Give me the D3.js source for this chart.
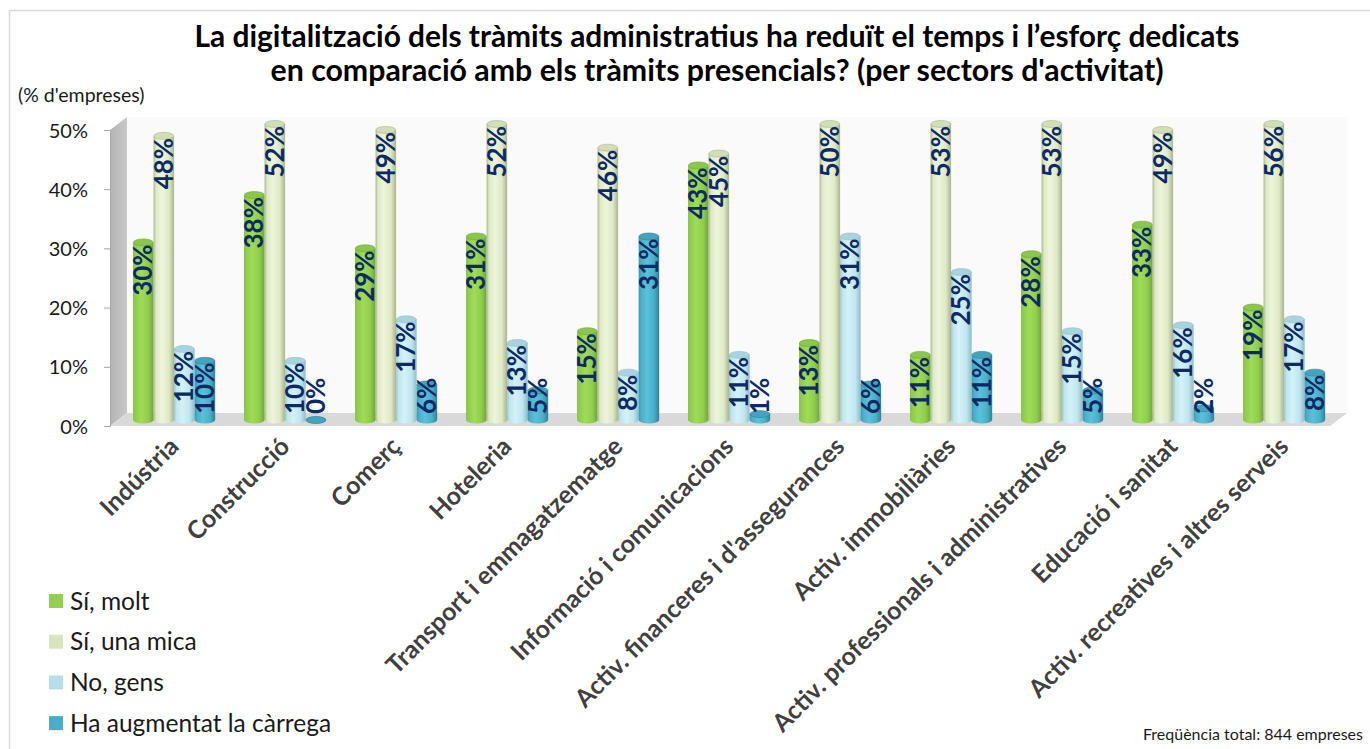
<!DOCTYPE html>
<html>
<head>
<meta charset="utf-8">
<script src="https://cdn.jsdelivr.net/npm/d3@7"></script>
<style>
  html, body { margin: 0; padding: 0; background: #ffffff; }
  svg { display: block; font-family: Lato, "Open Sans", sans-serif; }
</style>
</head>
<body>
<script>
// ---------- DATA ----------
const categories = [
  "Indústria", "Construcció", "Comerç", "Hoteleria",
  "Transport i emmagatzematge", "Informació i comunicacions",
  "Activ. financeres i d'assegurances", "Activ. immobiliàries",
  "Activ. professionals i administratives", "Educació i sanitat",
  "Activ. recreatives i altres serveis"
];
const seriesNames = ["Sí, molt", "Sí, una mica", "No, gens", "Ha augmentat la càrrega"];
const siMolt      = [30, 38, 29, 31, 15, 43, 13, 11, 28, 33, 19];
const siUnaMica   = [48, 52, 49, 52, 46, 45, 50, 53, 53, 49, 56];
const noGens      = [12, 10, 17, 13,  8, 11, 31, 25, 15, 16, 17];
const haAugmentat = [10,  0,  6,  5, 31,  1,  6, 11,  5,  2,  8];
const yTicks = [0, 10, 20, 30, 40, 50];
const titleLines = [
  "La digitalització dels tràmits administratius ha reduït el temps i l’esforç dedicats",
  "en comparació amb els tràmits presencials? (per sectors d'activitat)"
];
const yAxisTitle = "(% d'empreses)";
const footnote = "Freqüència total: 844 empreses";

// ---------- STYLE ----------
const seriesStyle = [
  { fill: "#92d050", edgeL: "#86c444", hi: "#9fdc58", mid: "#8fcd4c", edgeR: "#6ea53a", top: "#8ac74c" },
  { fill: "#d7e4bd", edgeL: "#aab78f", hi: "#eef5dc", mid: "#dde9c4", edgeR: "#a9b58e", top: "#d2deb5" },
  { fill: "#b7dee8", edgeL: "#9ac6d3", hi: "#d4f1f8", mid: "#bfe6ef", edgeR: "#8fbcc9", top: "#a9d3de" },
  { fill: "#4bacc6", edgeL: "#3a9ab4", hi: "#5cc0da", mid: "#4aafca", edgeR: "#2f8199", top: "#46a3bc" }
];
const seriesData = [siMolt, siUnaMica, noGens, haAugmentat];

const W = 1370, H = 749;
const svg = d3.select("body").append("svg").attr("width", W).attr("height", H);

// chart border
svg.append("rect").attr("x", 9.5).attr("y", 10.5).attr("width", W).attr("height", H)
  .attr("fill", "none").attr("stroke", "#d9d9d9").attr("stroke-width", 1.5);

// ---------- SCALES ----------
const y = d3.scaleLinear().domain([0, 50]).range([426, 130]).clamp(true);
const x0 = d3.scaleBand().domain(categories).range([118.6, 1339.6])
  .paddingInner(0.26).paddingOuter(0.13);
const x1 = d3.scaleBand().domain(seriesNames).range([0, x0.bandwidth()]);

const xL = 110, xR = 1330, dX = 17, dY = 13, lift = 6;

// ---------- GRADIENTS ----------
const defs = svg.append("defs");
seriesStyle.forEach((s, i) => {
  const g = defs.append("linearGradient").attr("id", "cyl" + i)
    .attr("x1", "0%").attr("x2", "100%").attr("y1", "0%").attr("y2", "0%");
  g.append("stop").attr("offset", "0%").attr("stop-color", s.edgeL);
  g.append("stop").attr("offset", "12%").attr("stop-color", s.mid);
  g.append("stop").attr("offset", "40%").attr("stop-color", s.hi);
  g.append("stop").attr("offset", "75%").attr("stop-color", s.mid);
  g.append("stop").attr("offset", "100%").attr("stop-color", s.edgeR);
});
const sideG = defs.append("linearGradient").attr("id", "side")
  .attr("x1", "0%").attr("x2", "100%");
sideG.append("stop").attr("offset", "0%").attr("stop-color", "#b4b4b4");
sideG.append("stop").attr("offset", "100%").attr("stop-color", "#c8c8c8");

// ---------- 3D WALLS ----------
const y0 = y(0), yTop = y(50);
svg.append("path")
  .attr("d", `M${xL},${yTop} L${xL + dX},${yTop - dY} L${xL + dX},${y0 - dY} L${xL},${y0} Z`)
  .attr("fill", "url(#side)");
svg.append("rect")
  .attr("x", xL + dX).attr("y", yTop - dY)
  .attr("width", xR - xL).attr("height", y0 - yTop)
  .attr("fill", "#fafafa");
svg.append("path")
  .attr("d", `M${xL},${y0} L${xL + dX},${y0 - dY} L${xR + dX},${y0 - dY} L${xR},${y0} Z`)
  .attr("fill", "#d9d9d9");

// ---------- AXIS ----------
const axis = svg.append("g").attr("transform", `translate(${xL},0)`)
  .call(d3.axisLeft(y).tickValues(yTicks).tickFormat(d => d + "%").tickSize(6).tickPadding(16));
axis.select(".domain").attr("stroke", "#a6a6a6");
axis.selectAll(".tick line").attr("stroke", "#a6a6a6");
axis.selectAll(".tick text").attr("font-size", 20).attr("fill", "#1a1a1a")
  .attr("font-family", "Lato, sans-serif").attr("dy", "0.35em");

// ---------- BARS ----------
const ry = 3.5;
const rows = [];
categories.forEach((c, ci) => {
  seriesNames.forEach((s, si) => {
    rows.push({ cat: c, series: s, si, v: seriesData[si][ci] });
  });
});
const barsG = svg.append("g");
rows.forEach(d => {
  const bx = x0(d.cat) + x1(d.series);
  const w = x1.bandwidth();
  const base = y(0) - lift;
  const top = y(d.v) - lift;
  const g = barsG.append("g");
  const st = seriesStyle[d.si];
  if (base - top > 0.5) {
    g.append("path")
      .attr("d", `M${bx},${top} L${bx},${base} A${w / 2},${ry} 0 0 0 ${bx + w},${base} L${bx + w},${top} Z`)
      .attr("fill", `url(#cyl${d.si})`);
  } else {
    g.append("ellipse").attr("cx", bx + w / 2).attr("cy", base).attr("rx", w / 2).attr("ry", ry)
      .attr("fill", `url(#cyl${d.si})`);
  }
  g.append("ellipse").attr("cx", bx + w / 2).attr("cy", top).attr("rx", w / 2 - 0.3).attr("ry", ry)
    .attr("fill", st.top).attr("stroke", st.edgeR).attr("stroke-width", 0.6);
  d.bx = bx; d.w = w; d.top = top; d.base = base;
});

// ---------- VALUE LABELS ----------
const lblG = svg.append("g");
rows.forEach(d => {
  const t = lblG.append("text")
    .text(d.v + "%")
    .attr("font-family", "Lato, sans-serif").attr("font-weight", "bold")
    .attr("font-size", 26).attr("fill", "#0b2a66")
    .attr("text-anchor", "end");
  const len = t.node().getComputedTextLength();
  const ty = Math.min(d.top + 2, d.base - 6 - len);
  t.attr("transform", `translate(${d.bx + d.w / 2 + 9},${ty}) rotate(-90)`);
});

// ---------- CATEGORY LABELS ----------
svg.append("g").selectAll("text").data(categories).join("text")
  .text(d => d)
  .attr("font-family", "Lato, sans-serif").attr("font-weight", "bold")
  .attr("font-size", 25).attr("fill", "#404040")
  .attr("text-anchor", "end")
  .attr("transform", d => `translate(${x0(d) + x0.bandwidth() / 2 + 6},${y0 + 22}) rotate(-45)`);

// ---------- TITLE ----------
const titleTargets = [1045, 893];
titleLines.forEach((line, i) => {
  const t = svg.append("text").text(line)
    .attr("x", 717).attr("y", 47 + i * 34)
    .attr("text-anchor", "middle")
    .attr("font-family", "Lato, sans-serif").attr("font-weight", "bold")
    .attr("font-size", 24).attr("fill", "#000");
  const wNow = t.node().getComputedTextLength();
  t.attr("font-size", (24 * titleTargets[i] / wNow).toFixed(2));
});

svg.append("text").text(yAxisTitle)
  .attr("x", 18).attr("y", 102)
  .attr("font-size", 19.5).attr("fill", "#1a1a1a");

// ---------- LEGEND ----------
const leg = svg.append("g").selectAll("g").data(seriesNames).join("g")
  .attr("transform", (d, i) => `translate(49,${601 + i * 40.7})`);
leg.append("rect").attr("x", 0).attr("y", -7).attr("width", 14).attr("height", 14)
  .attr("fill", (d, i) => seriesStyle[i].fill);
leg.append("text").text(d => d).attr("x", 21).attr("y", 0).attr("dy", "0.35em")
  .attr("font-size", 24.5).attr("fill", "#1a1a1a");

// ---------- FOOTNOTE ----------
svg.append("text").text(footnote)
  .attr("x", 1363).attr("y", 740).attr("text-anchor", "end")
  .attr("font-size", 16).attr("fill", "#1a1a1a");
</script>
</body>
</html>
